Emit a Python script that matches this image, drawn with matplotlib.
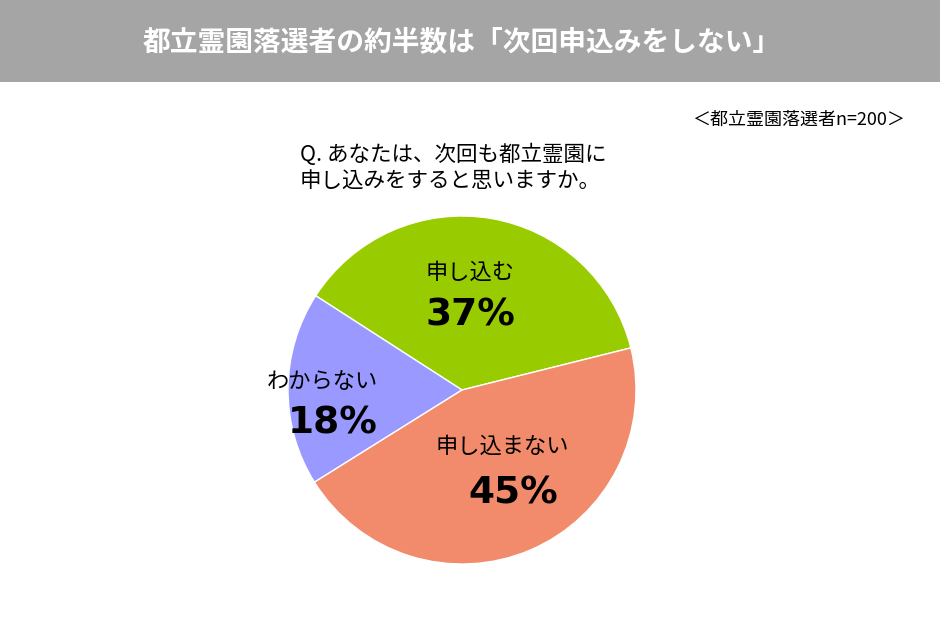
import matplotlib
matplotlib.use("Agg")
import matplotlib.pyplot as plt
from matplotlib.patches import Rectangle

plt.rcParams['font.family'] = ['Noto Sans CJK JP', 'DejaVu Sans']

labels = ["申し込む", "わからない", "申し込まない"]
values = [37, 18, 45]
colors = ["#99cc00", "#9999ff", "#f28b6b"]

W, H = 940, 621
fig = plt.figure(figsize=(W / 100, H / 100), dpi=100)

def fx(x):
    return x / W

def fy(y):
    return 1 - y / H

# title bar
fig.patches.append(Rectangle((0, fy(82)), 1, 82 / H, transform=fig.transFigure,
                             facecolor="#a5a5a5", edgecolor="none"))
fig.text(fx(462), fy(42), "都立霊園落選者の約半数は「次回申込みをしない」",
         ha="center", va="center", color="white", fontsize=20, fontweight="bold")
fig.text(fx(905), fy(120), "＜都立霊園落選者n=200＞", ha="right", va="center", fontsize=13)
fig.text(fx(300), fy(168), "Q. あなたは、次回も都立霊園に\n申し込みをすると思いますか。",
         ha="left", va="center", fontsize=15.5, linespacing=1.3)

cx, cy, r = 462, 390, 174
ax = fig.add_axes([fx(cx - r), fy(cy + r), 2 * r / W, 2 * r / H])
ax.pie(values, colors=colors, startangle=14, counterclock=True,
       wedgeprops=dict(edgecolor="white", linewidth=1))
ax.set_xlim(-1, 1)
ax.set_ylim(-1, 1)
ax.set_aspect("equal")
ax.axis("off")

# slice labels
pos = [(470, 272, 470, 316), (322, 382, 333, 424), (502, 446, 513, 494)]
for lab, v, (lx, ly, px, py) in zip(labels, values, pos):
    fig.text(fx(lx), fy(ly), lab, ha="center", va="center", fontsize=16)
    fig.text(fx(px), fy(py), f"{v}%", ha="center", va="center",
             fontsize=27, fontweight="bold", family="DejaVu Sans")

fig.savefig("out.png", dpi=100)
